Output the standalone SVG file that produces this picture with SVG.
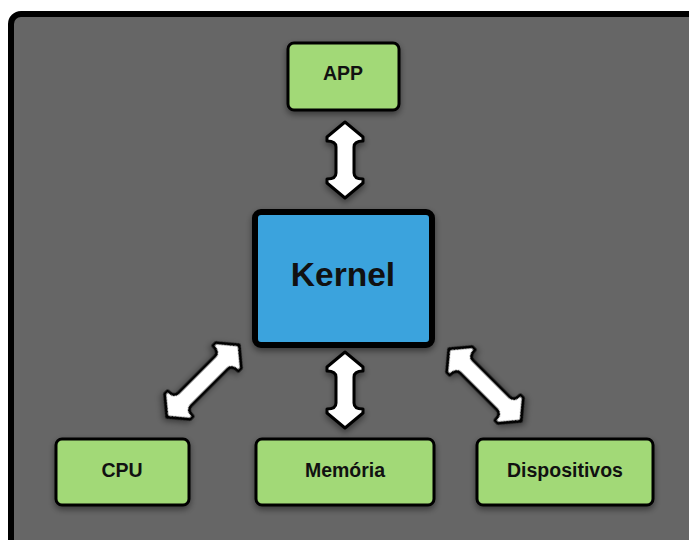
<svg xmlns="http://www.w3.org/2000/svg" width="689" height="540" viewBox="0 0 689 540">
  <defs>
    <filter id="shadow" x="-30%" y="-30%" width="160%" height="160%">
      <feDropShadow dx="0" dy="3" stdDeviation="3" flood-color="#000" flood-opacity="0.45"/>
    </filter>
    <!-- double-headed arrows, vertical, centred on the origin -->
    <path id="dbl" d="M0,-38 L18,-23 L18,-19 Q9,-19 9,-13 L9,13 Q9,19 18,19 L18,23 L0,38 L-18,23 L-18,19 Q-9,19 -9,13 L-9,-13 Q-9,-19 -18,-19 L-18,-23 Z"/>
    <path id="dblLong" d="M0,-51 L18,-36 L18,-32 Q9,-32 9,-26 L9,26 Q9,32 18,32 L18,36 L0,51 L-18,36 L-18,32 Q-9,32 -9,26 L-9,-26 Q-9,-32 -18,-32 L-18,-36 Z"/>
  </defs>
  <style>
    .panel { fill: #666666; stroke: #000; stroke-width: 6; }
    .leaf { fill: #a2d977; stroke: #000; stroke-width: 3; filter: url(#shadow); }
    .core { fill: #3aa3dd; stroke: #000; stroke-width: 6; filter: url(#shadow); }
    .arrow { fill: #fff; stroke: #000; stroke-width: 3; stroke-linejoin: round; filter: url(#shadow); }
    .lbl { font-family: "Liberation Sans", Arial, sans-serif; font-weight: bold; font-size: 19.5px; fill: #111; text-anchor: middle; }
    .big { font-size: 33.5px; }
  </style>

  <rect width="689" height="540" fill="#ffffff"/>
  <rect class="panel" x="11" y="14" width="700" height="560" rx="10"/>

  <g id="connectors">
    <use href="#dbl" class="arrow" transform="translate(345,160)"/>
    <use href="#dbl" class="arrow" transform="translate(345,390)"/>
    <use href="#dblLong" class="arrow" transform="translate(203,381) rotate(45)"/>
    <use href="#dblLong" class="arrow" transform="translate(485,385) rotate(-45)"/>
  </g>

  <g id="app">
    <rect class="leaf" x="288" y="43" width="111" height="67" rx="6"/>
    <text class="lbl" x="343" y="80">APP</text>
  </g>
  <g id="kernel">
    <rect class="core" x="255" y="212" width="177" height="133" rx="6"/>
    <text class="lbl big" x="343" y="286">Kernel</text>
  </g>
  <g id="cpu">
    <rect class="leaf" x="56" y="439" width="133" height="66" rx="6"/>
    <text class="lbl" x="122" y="477">CPU</text>
  </g>
  <g id="memoria">
    <rect class="leaf" x="256" y="439" width="178" height="66" rx="6"/>
    <text class="lbl" x="345" y="477">Memória</text>
  </g>
  <g id="dispositivos">
    <rect class="leaf" x="477" y="439" width="176" height="66" rx="6"/>
    <text class="lbl" x="565" y="477">Dispositivos</text>
  </g>
</svg>
